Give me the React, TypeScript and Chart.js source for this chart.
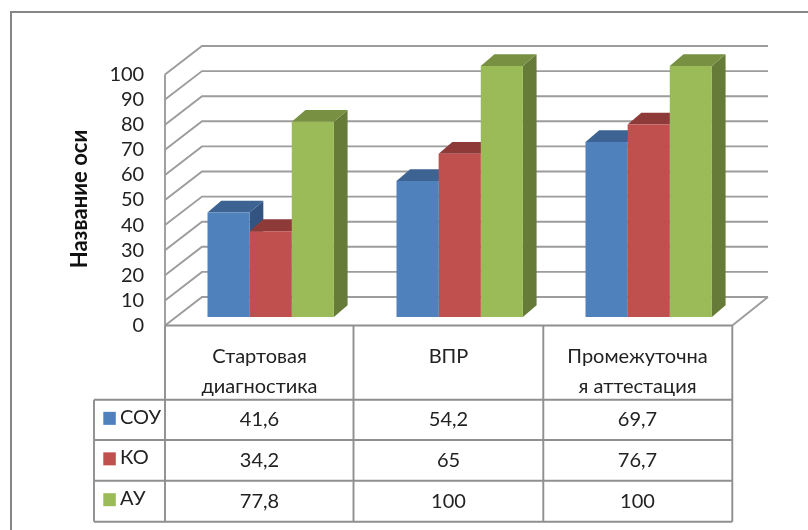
import React, { useEffect, useRef } from "react";
import { Chart, registerables } from "chart.js";

Chart.register(...registerables);

const categories: string[][] = [["Стартовая", "диагностика"], ["ВПР"], ["Промежуточна", "я аттестация"]];
const seriesNames = ["СОУ", "КО", "АУ"];
const souValues = [41.6, 54.2, 69.7];
const koValues = [34.2, 65, 76.7];
const auValues = [77.8, 100, 100];
const axisTitle = "Название оси";

const frontColors = ["#4F81BD", "#C0504D", "#9BBB59"];
const topColors = ["#3C6391", "#8E3A38", "#779042"];
const sideColors = ["#335480", "#7D3331", "#677B38"];
const FONT = "Lato, 'Open Sans', sans-serif";
const TEXT = "#222222";
const GRID = "#9c9c9c";
const TABLE = "#8f8f8f";

const fmt = (v: number) => String(v).replace(".", ",");

const wall3d = {
  id: "wall3d",
  beforeDraw(chart: any) {
    const c = chart.ctx;
    c.save();
    c.fillStyle = "#fff";
    c.fillRect(0, 0, chart.width, chart.height);
    c.strokeStyle = "#868686";
    c.lineWidth = 2;
    c.beginPath();
    c.moveTo(11, 530);
    c.lineTo(11, 12);
    c.lineTo(808, 12);
    c.stroke();
    c.restore();
  },
  beforeDatasetsDraw(chart: any) {
    const c = chart.ctx;
    const y = chart.scales.y;
    const { left, right } = chart.chartArea;
    c.save();
    c.strokeStyle = GRID;
    c.lineWidth = 1.9;
    for (const t of y.ticks) {
      const p = y.getPixelForValue(t.value);
      c.beginPath();
      c.moveTo(left - 11.2, p + 8.5);
      c.lineTo(left + 25.8, p - 20);
      c.lineTo(right + 24.8, p - 20);
      c.stroke();
    }
    const y0 = y.getPixelForValue(0);
    const y100 = y.getPixelForValue(100);
    c.beginPath();
    c.moveTo(left - 11.2, y100 + 8.5);
    c.lineTo(left - 11.2, y0 + 8.5);
    c.stroke();
    c.beginPath();
    c.moveTo(right + 24.8, y0 - 20);
    c.lineTo(right - 10.9, y0 + 8.5);
    c.stroke();

    // depth faces of the bars, left to right, under the flat fronts
    const dx = 13.7;
    const dy = 11.8;
    chart.data.datasets.forEach((_: any, i: number) => {
      chart.getDatasetMeta(i).data.forEach((bar: any) => {
        const l = bar.x - bar.width / 2;
        const r = bar.x + bar.width / 2;
        c.fillStyle = sideColors[i];
        c.beginPath();
        c.moveTo(r, bar.y);
        c.lineTo(r + dx, bar.y - dy);
        c.lineTo(r + dx, bar.base - dy);
        c.lineTo(r, bar.base);
        c.closePath();
        c.fill();
        c.fillStyle = topColors[i];
        c.beginPath();
        c.moveTo(l, bar.y);
        c.lineTo(l + dx, bar.y - dy);
        c.lineTo(r + dx, bar.y - dy);
        c.lineTo(r, bar.y);
        c.closePath();
        c.fill();
      });
    });
    c.restore();
  },
  afterDraw(chart: any) {
    const c = chart.ctx;
    const x = chart.scales.x;
    const colX = [165, 353.5, 543.3, 732.3];
    const rowY = [325.5, 399.7, 440, 480.7, 521.7];
    const legendLeft = 94;
    c.save();
    c.strokeStyle = TABLE;
    c.lineWidth = 1.9;
    c.beginPath();
    colX.forEach((v) => {
      c.moveTo(v, rowY[0]);
      c.lineTo(v, rowY[4]);
    });
    c.moveTo(colX[0], rowY[0]);
    c.lineTo(colX[3], rowY[0]);
    rowY.slice(1).forEach((v) => {
      c.moveTo(legendLeft, v);
      c.lineTo(colX[3], v);
    });
    c.moveTo(legendLeft, rowY[1]);
    c.lineTo(legendLeft, rowY[4]);
    c.stroke();

    c.font = `20px ${FONT}`;
    c.fillStyle = TEXT;
    c.textBaseline = "middle";
    chart.data.datasets.forEach((ds: any, i: number) => {
      const cy = (rowY[i + 1] + rowY[i + 2]) / 2;
      c.fillStyle = frontColors[i];
      c.fillRect(103.3, cy - 8, 12.5, 13);
      c.fillStyle = TEXT;
      c.textAlign = "left";
      c.fillText(ds.label, 120, cy - 2.5);
      c.textAlign = "center";
      ds.data.forEach((v: number, j: number) => {
        c.fillText(fmt(v), x.getPixelForValue(j) - 11.2, cy);
      });
    });

    c.translate(80, 199);
    c.rotate(-Math.PI / 2);
    c.font = `bold 22px ${FONT}`;
    c.fillStyle = "#111";
    c.textAlign = "center";
    c.fillText(axisTitle, 0, 0);
    c.restore();
  },
};

export default function App() {
  const ref = useRef<HTMLCanvasElement>(null);
  useEffect(() => {
    document.body.style.margin = "0";
    const chart = new Chart(ref.current!, {
      type: "bar",
      data: {
        labels: categories as any,
        datasets: [souValues, koValues, auValues].map((data, i) => ({
          label: seriesNames[i],
          data,
          backgroundColor: frontColors[i],
          borderWidth: 0,
          categoryPercentage: 0.6687,
          barPercentage: 1,
        })),
      },
      options: {
        responsive: false,
        animation: false,
        devicePixelRatio: 1,
        layout: { padding: { top: 66, right: 64.8, bottom: 0, left: 0 } },
        plugins: { legend: { display: false }, tooltip: { enabled: false }, title: { display: false } },
        scales: {
          x: {
            grid: { display: false, drawTicks: false },
            border: { display: false },
            afterFit: (s: any) => { s.height = 213; },
            ticks: {
              autoSkip: false,
              maxRotation: 0,
              minRotation: 0,
              padding: 25,
              labelOffset: -11.2,
              color: TEXT,
              font: { family: FONT, size: 20, lineHeight: "30px" },
            },
          },
          y: {
            min: 0,
            max: 100,
            grid: { display: false, drawTicks: false },
            border: { display: false },
            afterFit: (s: any) => { s.width = 176.2; },
            ticks: {
              autoSkip: false,
              stepSize: 10,
              padding: 32,
              labelOffset: 8.5,
              color: TEXT,
              font: { family: FONT, size: 20 },
            },
          },
        },
      },
      plugins: [wall3d],
    } as any);
    return () => chart.destroy();
  }, []);
  return (
    <div style={{ position: "fixed", left: 0, top: 0, width: 808, height: 530 }}>
      <canvas ref={ref} width={808} height={530} style={{ display: "block", filter: "blur(0.5px)" }} />
    </div>
  );
}
